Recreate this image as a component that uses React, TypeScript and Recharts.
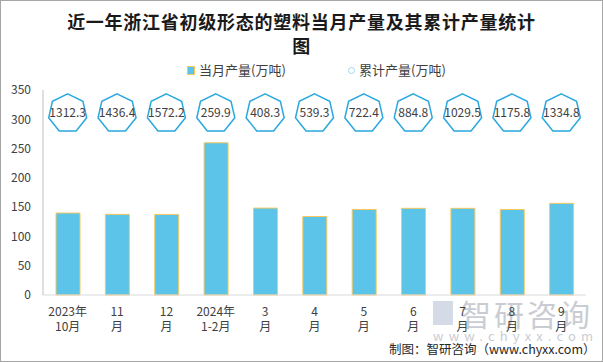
import React from 'react';
import { ComposedChart, Bar, Line, XAxis, YAxis } from 'recharts';

// Category labels (two lines each)
const months = ['2023年\n10月', '11\n月', '12\n月', '2024年\n1-2月', '3\n月', '4\n月', '5\n月', '6\n月', '7\n月', '8\n月', '9\n月'];
// 当月产量(万吨)
const monthly = [140, 137.7, 137.5, 259.9, 148.4, 134, 146, 148, 148, 146, 156.5];
// 累计产量(万吨)
const cumulative = [1312.3, 1436.4, 1572.2, 259.9, 408.3, 539.3, 722.4, 884.8, 1029.5, 1175.8, 1334.8];
const yTicks = [0, 50, 100, 150, 200, 250, 300, 350];

// helper level used by the cumulative markers row (Excel auxiliary series)
const MARKER_LEVEL = 310;

const data = months.map((m, i) => ({
  name: m,
  monthly: monthly[i],
  cumulative: cumulative[i],
}));

const FONT = '"Noto Sans CJK SC", "Noto Sans", sans-serif';
const TEXT = '#404040';
const BAR_FILL = '#5bc4e8';
const BAR_STROKE = '#f6c85f';
const HEPTA = '#2aa8e0';

const MonthTick = (props: any) => {
  const { x, y, payload } = props;
  const [l1, l2] = String(payload.value).split('\n');
  return (
    <text x={x} y={y} textAnchor="middle" fill={TEXT} fontSize={12} fontFamily={FONT}>
      <tspan x={x} dy={21}>{l1}</tspan>
      <tspan x={x} dy={15}>{l2}</tspan>
    </text>
  );
};

// heptagon marker with the cumulative value inside
const HeptaDot = (props: any) => {
  const { cx, cy, payload, index } = props;
  if (cx == null || cy == null) return null;
  const r = 19.5;
  const pts = Array.from({ length: 7 }, (_, k) => {
    const a = (k * 2 * Math.PI) / 7;
    return `${cx + r * Math.sin(a)},${cy - r * Math.cos(a)}`;
  }).join(' ');
  return (
    <g key={`hep-${index}`}>
      <polygon points={pts} fill="#ffffff" stroke={HEPTA} strokeWidth={1.5} />
      <text x={cx} y={cy + 4} textAnchor="middle" fill={TEXT} fontSize={12} fontFamily={FONT}>
        {payload.cumulative}
      </text>
    </g>
  );
};

const App: React.FC = () => {
  return (
    <div
      style={{
        position: 'absolute',
        left: 0,
        top: 0,
        width: 603,
        height: 362,
        background: '#ffffff',
        fontFamily: FONT,
        overflow: 'hidden',
      }}
    >
      {/* frame */}
      <div
        style={{
          position: 'absolute',
          left: 0,
          top: 0,
          width: 601,
          height: 360,
          border: '1px solid #a6a6a6',
        }}
      />

      {/* Title */}
      <div
        style={{
          position: 'absolute',
          left: 0,
          top: 9,
          width: 603,
          textAlign: 'center',
          fontSize: 18,
          fontWeight: 700,
          letterSpacing: 0.75,
          lineHeight: '24px',
          color: '#1a1a1a',
        }}
      >
        <div>近一年浙江省初级形态的塑料当月产量及其累计产量统计</div>
        <div>图</div>
      </div>

      {/* Legend */}
      <div style={{ position: 'absolute', left: 187, top: 61, fontSize: 13, color: TEXT, lineHeight: '18px', whiteSpace: 'nowrap' }}>
        <span
          style={{
            display: 'inline-block',
            width: 6,
            height: 7,
            background: BAR_FILL,
            border: `1px solid ${BAR_STROKE}`,
            marginRight: 4,
            verticalAlign: 'middle',
            position: 'relative',
            top: -1,
          }}
        />
        当月产量(万吨)
      </div>
      <div style={{ position: 'absolute', left: 348, top: 61, fontSize: 13, color: TEXT, lineHeight: '18px', whiteSpace: 'nowrap' }}>
        <span
          style={{
            display: 'inline-block',
            width: 5,
            height: 5,
            borderRadius: '50%',
            border: '1px solid #9fd6ee',
            marginRight: 4,
            verticalAlign: 'middle',
            position: 'relative',
            top: -1,
          }}
        />
        累计产量(万吨)
      </div>

      {/* Watermark */}
      <div style={{ position: 'absolute', left: 433, top: 298, color: '#c9cdd3', whiteSpace: 'nowrap' }}>
        <span style={{ display: 'inline-block', width: 20, height: 24, background: '#d4dbe6', marginRight: 8, verticalAlign: 'top', marginTop: 3 }} />
        <span style={{ fontSize: 30, lineHeight: '30px', letterSpacing: 3, verticalAlign: 'top' }}>智研咨询</span>
      </div>
      <div style={{ position: 'absolute', left: 433, top: 328, fontSize: 13, lineHeight: '16px', color: '#c9cdd3', letterSpacing: 5.2, whiteSpace: 'nowrap' }}>
        www.chyxx.com
      </div>

      <div style={{ position: 'absolute', left: 0, top: 0 }}>
        <ComposedChart width={603} height={362} data={data} margin={{ top: 90, right: 17, bottom: 37, left: 0 }}>
          <XAxis
            dataKey="name"
            interval={0}
            height={30}
            tickLine={false}
            tickSize={0}
            tickMargin={0}
            axisLine={{ stroke: '#d9d9d9' }}
            tick={<MonthTick />}
          />
          <YAxis
            width={43}
            domain={[0, 350]}
            ticks={yTicks}
            interval={0}
            tickLine={false}
            tickSize={0}
            tickMargin={12}
            axisLine={{ stroke: '#bfbfbf' }}
            tick={{ fill: TEXT, fontSize: 12, fontFamily: FONT }}
          />
          <Bar
            dataKey="monthly"
            name="当月产量(万吨)"
            fill={BAR_FILL}
            stroke={BAR_STROKE}
            strokeWidth={1}
            barSize={24}
            isAnimationActive={false}
          />
          <Line
            dataKey={() => MARKER_LEVEL}
            name="累计产量(万吨)"
            stroke="none"
            dot={<HeptaDot />}
            activeDot={false}
            isAnimationActive={false}
          />
        </ComposedChart>
      </div>

      {/* Source */}
      <div style={{ position: 'absolute', left: 389, top: 341, fontSize: 12.5, lineHeight: '16px', color: '#262626', whiteSpace: 'nowrap' }}>
        制图：智研咨询（www.chyxx.com）
      </div>
    </div>
  );
};

export default App;
